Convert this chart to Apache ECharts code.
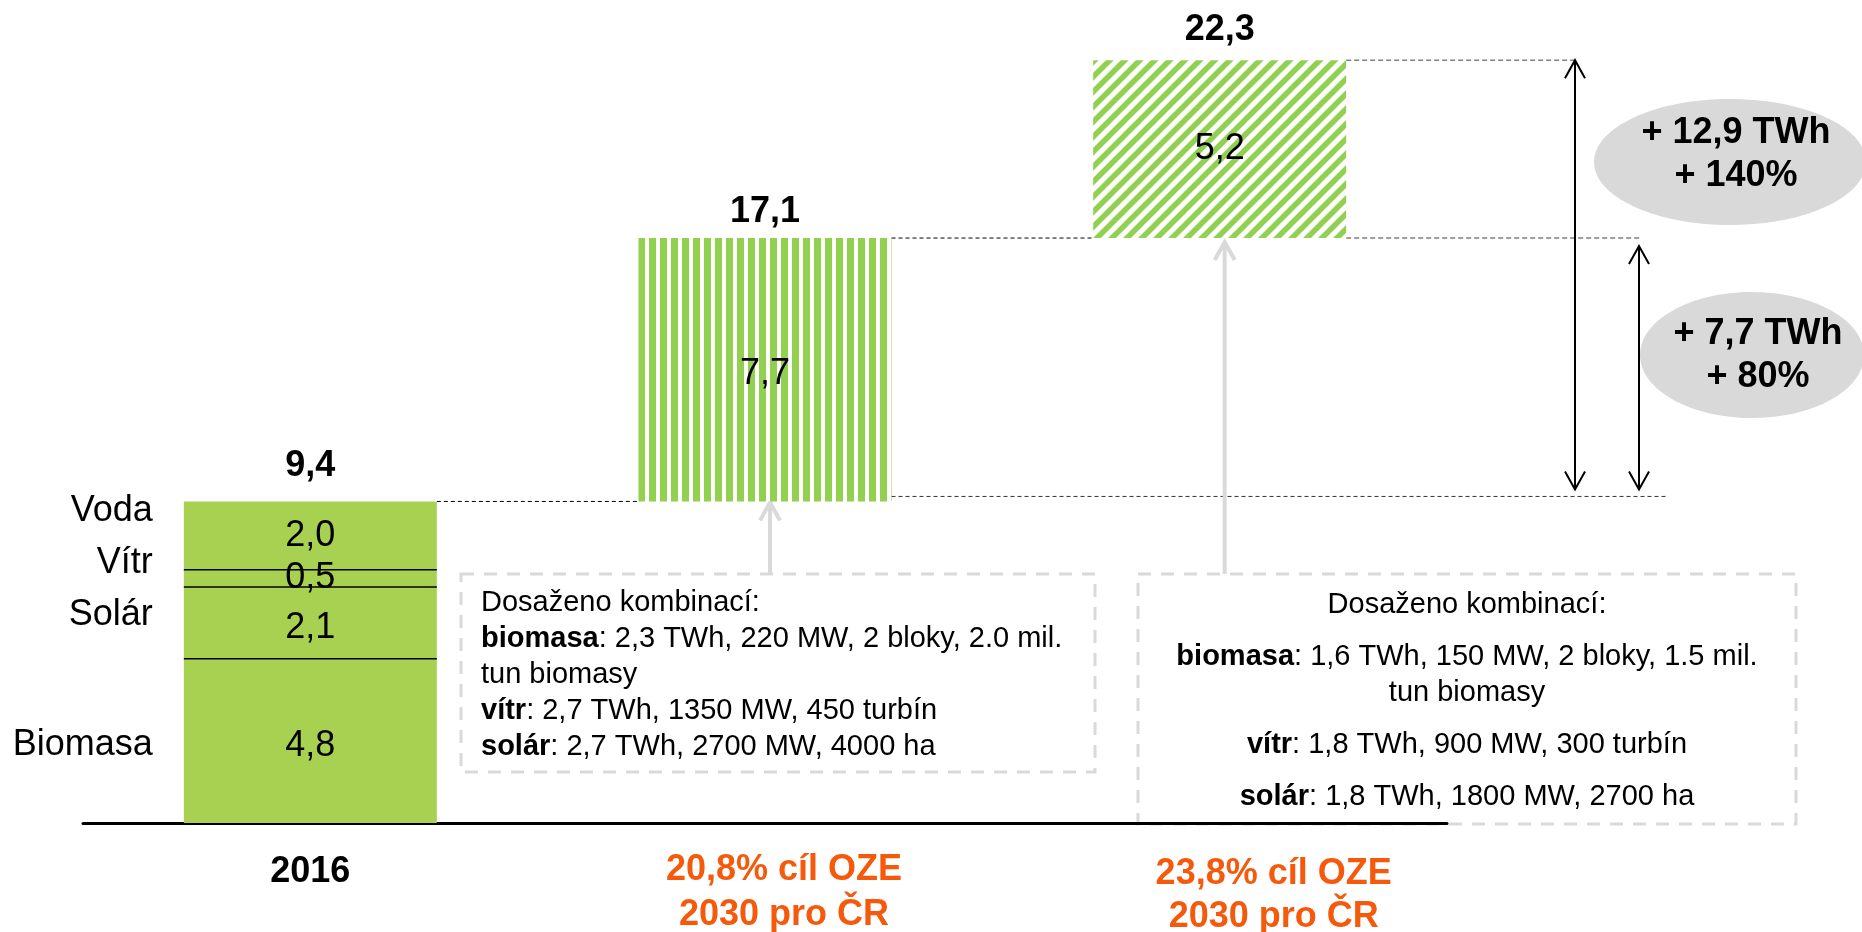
<!DOCTYPE html>
<html>
<head>
<meta charset="utf-8">
<title>OZE 2016 – 2030</title>
<script src="https://cdn.jsdelivr.net/npm/echarts@6.0.0/dist/echarts.min.js"></script>
<style>
html, body { margin: 0; padding: 0; background: #fff; }
#main { width: 1862px; height: 932px; }
</style>
</head>
<body>
<div id="main"></div>
<script>
// --- data (TWh) ---
const categories = ['2016', '20,8% cíl OZE\n2030 pro ČR', '23,8% cíl OZE\n2030 pro ČR'];
const sources2016 = ['Biomasa', 'Solár', 'Vítr', 'Voda'];
const values2016 = [4.8, 2.1, 0.5, 2.0];
const increments = [7.7, 5.2];          // přírůstek pro cíl 20,8 % a 23,8 %
const totals = [9.4, 17.1, 22.3];
const deltaTexts = ['+ 12,9 TWh\n+ 140%', '+ 7,7 TWh\n+ 80%'];
const box1Lines = [
    'Dosaženo kombinací:',
    '{b|biomasa}: 2,3 TWh, 220 MW, 2 bloky, 2.0 mil.',
    'tun biomasy',
    '{b|vítr}: 2,7 TWh, 1350 MW, 450 turbín',
    '{b|solár}: 2,7 TWh, 2700 MW, 4000 ha'
];
const box2Paragraphs = [
    ['Dosaženo kombinací:'],
    ['{b|biomasa}: 1,6 TWh, 150 MW, 2 bloky, 1.5 mil.', 'tun biomasy'],
    ['{b|vítr}: 1,8 TWh, 900 MW, 300 turbín'],
    ['{b|solár}: 1,8 TWh, 1800 MW, 2700 ha']
];

// --- styling ---
const FONT = '"Liberation Sans", Arial, sans-serif';
const GREEN = '#A9D151';
const STRIPE = '#92D050';
const ORANGE = '#F55A0C';
const BAR_W = 253;
const nameNudge = [4, -8, -15, -25];    // posun popisků vlevo od sloupce
const valueNudge = [5, 5, 0, 0];        // posun hodnot uvnitř segmentů
const totalGap = [17, 8, 12];           // mezera součtu nad sloupcem

const fmt = v => Number(v).toFixed(1).replace('.', ',');

// vzory pro šrafované sloupce
const stripesV = (function () {
    const c = document.createElement('canvas');
    c.width = 11; c.height = 11;
    const ctx = c.getContext('2d');
    ctx.fillStyle = '#fff';
    ctx.fillRect(0, 0, 11, 11);
    ctx.fillStyle = STRIPE;
    ctx.fillRect(0, 0, 7, 11);
    return c;
})();
const stripesD = (function () {
    const n = 15;
    const c = document.createElement('canvas');
    c.width = n; c.height = n;
    const ctx = c.getContext('2d');
    ctx.fillStyle = '#fff';
    ctx.fillRect(0, 0, n, n);
    ctx.strokeStyle = STRIPE;
    ctx.lineWidth = 5.5;
    ctx.beginPath();
    ctx.moveTo(0, n); ctx.lineTo(n, 0);
    ctx.moveTo(-n / 2, n / 2); ctx.lineTo(n / 2, -n / 2);
    ctx.moveTo(n / 2, n * 1.5); ctx.lineTo(n * 1.5, n / 2);
    ctx.stroke();
    return c;
})();

var chartDom = document.getElementById('main');
var myChart = echarts.init(chartDom);
var option;

let acc = 0;
const segBounds = values2016.map((v, i) => {
    const lo = acc;
    acc += v;
    return [0, lo, acc, i];
});

const insideLabel = (dy) => ({
    show: true,
    position: 'inside',
    offset: [0, dy],
    fontSize: 36,
    color: '#000',
    fontFamily: FONT,
    formatter: p => fmt(p.value)
});

const segSeries = sources2016.map((name, i) => ({
    name: name,
    type: 'bar',
    stack: 'oze',
    barWidth: BAR_W,
    data: [values2016[i], '-', '-'],
    itemStyle: { color: GREEN },
    label: insideLabel(valueNudge[i])
}));

const orangeLine = extra => Object.assign({
    fontSize: 36, fontWeight: 'bold', color: ORANGE, lineHeight: 45, fontFamily: FONT
}, extra);

option = {
    animation: false,
    textStyle: { fontFamily: FONT },
    grid: { left: 83, right: 415, top: 2, bottom: 109, containLabel: false, outerBoundsMode: 'none' },
    xAxis: {
        type: 'category',
        data: categories,
        axisLine: { lineStyle: { color: '#000', width: 3 } },
        axisTick: { show: false },
        axisLabel: {
            interval: 0,
            margin: 25,
            formatter: function (v, i) {
                const lines = v.split('\n');
                if (i === 0) return '{y|' + v + '}';
                if (i === 1) return lines.map(s => '{a|' + s + '}').join('\n');
                return '{b1|' + lines[0] + '}\n{b2|' + lines[1] + '}';
            },
            rich: {
                y: { fontSize: 36, fontWeight: 'bold', color: '#000', lineHeight: 45, padding: [3, 0, 0, 0], fontFamily: FONT },
                a: orangeLine({ padding: [0, 0, 0, 38] }),
                b1: orangeLine({ padding: [8, 0, 0, 108] }),
                b2: orangeLine({ lineHeight: 48, padding: [0, 0, 0, 108] })
            }
        }
    },
    yAxis: { type: 'value', min: 0, max: 24, show: false, splitLine: { show: false } },
    series: segSeries.concat([
        {
            name: 'základ',
            type: 'bar',
            stack: 'oze',
            barWidth: BAR_W,
            silent: true,
            data: ['-', totals[0], totals[1]],
            itemStyle: { color: 'transparent' }
        },
        {
            name: 'přírůstek',
            type: 'bar',
            stack: 'oze',
            barWidth: BAR_W,
            data: ['-',
                { value: increments[0], itemStyle: { color: { image: stripesV, repeat: 'repeat' } }, label: { offset: [0, 4] } },
                { value: increments[1], itemStyle: { color: { image: stripesD, repeat: 'repeat' } } }],
            label: insideLabel(0)
        },
        {
            name: 'celkem',
            type: 'bar',
            stack: 'oze',
            barWidth: BAR_W,
            silent: true,
            data: totals.map((t, i) => ({ value: 0, label: { distance: totalGap[i] } })),
            itemStyle: { color: 'transparent' },
            label: {
                show: true,
                position: 'top',
                fontSize: 36,
                fontWeight: 'bold',
                color: '#000',
                fontFamily: FONT,
                formatter: p => fmt(totals[p.dataIndex])
            }
        },
        {
            // dělicí čáry a názvy zdrojů u sloupce 2016
            name: 'zdroje',
            type: 'custom',
            silent: true,
            z: 5,
            data: segBounds,
            encode: { x: 0, y: [1, 2] },
            renderItem: function (params, api) {
                const i = api.value(3);
                const lo = api.coord([api.value(0), api.value(1)]);
                const hi = api.coord([api.value(0), api.value(2)]);
                const half = BAR_W / 2;
                const children = [{
                    type: 'text',
                    style: {
                        text: sources2016[i],
                        x: lo[0] - half - 31,
                        y: (lo[1] + hi[1]) / 2 + nameNudge[i],
                        align: 'right',
                        verticalAlign: 'middle',
                        font: '36px ' + FONT,
                        fill: '#000'
                    }
                }];
                if (i < values2016.length - 1) {
                    children.push({
                        type: 'line',
                        shape: { x1: hi[0] - half, y1: hi[1], x2: hi[0] + half, y2: hi[1] },
                        style: { stroke: '#000', lineWidth: 1.5 }
                    });
                }
                return { type: 'group', children: children };
            }
        }
    ])
};

option && myChart.setOption(option);

// --- anotace: spojnice, šipky, elipsy, rámečky ---
const drawAnnotations = () => {
    const px = (i, v) => myChart.convertToPixel({ gridIndex: 0 }, [i, v]);
    const half = BAR_W / 2;
    const xc = categories.map((c, i) => px(i, 0)[0]);
    const yt = totals.map((t, i) => px(i, t)[1]);
    const g = [];

    const dashed = (x1, y, x2, color, w, dash) => g.push({
        type: 'line', silent: true,
        shape: { x1: x1, y1: y, x2: x2, y2: y },
        style: { stroke: color, lineWidth: w, lineDash: dash }
    });
    const head = (x, y, dir, color, w) => g.push({
        type: 'polyline', silent: true,
        shape: { points: [[x - 10, y + dir * 18], [x, y], [x + 10, y + dir * 18]] },
        style: { stroke: color, lineWidth: w, fill: null }
    });
    const arrow = (x, y1, y2, color, w, both) => {
        g.push({
            type: 'line', silent: true,
            shape: { x1: x, y1: y1, x2: x, y2: y2 },
            style: { stroke: color, lineWidth: w }
        });
        head(x, y1, 1, color, w);
        if (both) head(x, y2, -1, color, w);
    };

    // spojnice mezi sloupci
    dashed(xc[0] + half, yt[0], xc[1] - half, '#000', 1, [4, 3]);
    dashed(xc[1] + half, yt[1], xc[2] - half, '#000', 1, [4, 3]);
    dashed(xc[2] + half, yt[2], 1578, '#808080', 1.5, [5, 3]);
    dashed(xc[2] + half, yt[1], 1642, '#808080', 1.5, [5, 3]);
    dashed(xc[1] + half, yt[0] - 5, 1666, '#333', 1, [4, 3]);

    // obousměrné šipky
    arrow(1575, yt[2], yt[0] - 12, '#000', 2, true);
    arrow(1639, yt[1] + 8, yt[0] - 12, '#000', 2, true);

    // elipsy s přírůstky
    g.push({ type: 'ellipse', silent: true, shape: { cx: 1730, cy: 162, rx: 136, ry: 63 }, style: { fill: '#D9D9D9' } });
    g.push({ type: 'ellipse', silent: true, shape: { cx: 1752, cy: 355, rx: 112, ry: 63 }, style: { fill: '#D9D9D9' } });
    [[1736, 155], [1758, 356]].forEach((p, i) => g.push({
        type: 'text', silent: true,
        style: {
            text: deltaTexts[i], x: p[0], y: p[1], align: 'center', verticalAlign: 'middle',
            font: 'bold 36px ' + FONT, lineHeight: 43, fill: '#000'
        }
    }));

    // rámečky s komentářem
    const boxStyle = { fill: null, stroke: '#D9D9D9', lineWidth: 3, lineDash: [13, 10] };
    g.push({ type: 'rect', silent: true, z: -1, shape: { x: 461, y: 574, width: 634, height: 198 }, style: boxStyle });
    g.push({ type: 'rect', silent: true, z: -1, shape: { x: 1138, y: 574, width: 658, height: 250 }, style: boxStyle });

    // šedé šipky k sloupcům
    arrow(xc[1] + 5, yt[0] + 1, 574, '#D9D9D9', 4, false);
    arrow(xc[2] + 5, yt[1] + 4, 574, '#D9D9D9', 4, false);

    const rich = { b: { fontWeight: 'bold', fontSize: 29, lineHeight: 36, fontFamily: FONT } };
    g.push({
        type: 'text', silent: true,
        style: {
            text: box1Lines.join('\n'), x: 481, y: 585, align: 'left', verticalAlign: 'top',
            fontSize: 29, fontFamily: FONT, lineHeight: 36, fill: '#000', rich: rich
        }
    });
    let y = 605;
    box2Paragraphs.forEach(par => {
        par.forEach(line => {
            g.push({
                type: 'text', silent: true,
                style: {
                    text: line, x: 1467, y: y, align: 'center', verticalAlign: 'middle',
                    fontSize: 29, fontFamily: FONT, lineHeight: 36, fill: '#000', rich: rich
                }
            });
            y += 36;
        });
        y += 16;
    });

    myChart.setOption({ graphic: g });
};

drawAnnotations();
</script>
</body>
</html>
